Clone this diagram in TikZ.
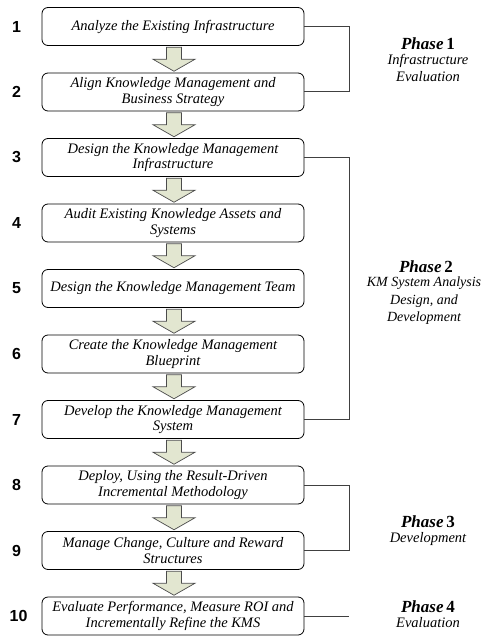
\documentclass[tikz,border=0pt]{standalone}
\usepackage{fontspec}
\setmainfont{Liberation Serif}
\newfontfamily\numfont{Liberation Sans}
\usetikzlibrary{calc}

\definecolor{arrowfill}{RGB}{226,230,208}

\tikzset{
  stepbox/.style={draw=black, line width=0.8pt, rounded corners=6pt,
    minimum width=262pt, minimum height=38pt, inner sep=0pt,
    align=center, font=\fontsize{14.5}{15.5}\selectfont\itshape},
  stepnum/.style={font=\fontsize{16}{16}\selectfont\numfont\bfseries, anchor=center},
  bracket/.style={draw=black!75, line width=1pt},
  phasetitle/.style={font=\fontsize{17}{19}\selectfont\bfseries\itshape},
  phasetext/.style={align=center, font=\fontsize{14.5}{17.5}\selectfont\itshape},
  blockfill/.style={draw=black!70, line width=0.7pt, fill=arrowfill, line join=miter},
  blockdown/.pic={
    \path[blockfill] (-7.5,12) -- (7.5,12) -- (7.5,0) -- (21,0) -- (0,-12)
      -- (-21,0) -- (-7.5,0) -- cycle;
  }
}

\begin{document}
\begin{tikzpicture}[x=1pt, y=1pt]
\useasboundingbox (0,0) rectangle (485,-636);

% process steps
\node[stepbox] (b1)  at (173,-26.5) {Analyze the Existing Infrastructure};
\node[stepbox] (b2)  at (173,-92)   {Align Knowledge Management and\\Business Strategy};
\node[stepbox] (b3)  at (173,-157.5){Design the Knowledge Management\\Infrastructure};
\node[stepbox] (b4)  at (173,-223)  {Audit Existing Knowledge Assets and\\Systems};
\node[stepbox] (b5)  at (173,-288.5){Design the Knowledge Management Team};
\node[stepbox] (b6)  at (173,-354)  {Create the Knowledge Management\\Blueprint};
\node[stepbox] (b7)  at (173,-419.5){Develop the Knowledge Management\\System};
\node[stepbox] (b8)  at (173,-485)  {Deploy, Using the Result-Driven\\Incremental Methodology};
\node[stepbox] (b9)  at (173,-550.5){Manage Change, Culture and Reward\\Structures};
\node[stepbox] (b10) at (173,-616)  {Evaluate Performance, Measure ROI and\\Incrementally Refine the KMS};

% step numbers
\foreach \i in {1,...,9} {
  \node[stepnum] (n\i) at ($(b\i.west)+(-25,0)$) {\i};
}
\node[stepnum] (n10) at ($(b10.west)+(-23,0)$) {10};

% block arrows between consecutive steps
\foreach \a/\b in {1/2,2/3,3/4,4/5,5/6,6/7,7/8,8/9,9/10} {
  \path ($(b\a.south)!0.5!(b\b.north)+(1,0)$) pic {blockdown};
}

% phase brackets
\draw[bracket] (b1.east) -- ++(45,0) coordinate (p1a) |- (b2.east);
\draw[bracket] (b3.east) -- ++(45,0) coordinate (p2a) |- (b7.east);
\draw[bracket] (b8.east) -- ++(45,0) coordinate (p3a) |- (b9.east);
\draw[bracket] (b10.east) -- ++(45,0) coordinate (p4a);

% phase labels
\node[phasetitle] (ph1) at (428,-44) {Phase\,\textup{1}};
\node[phasetext, anchor=north] (ph1t) at ($(ph1.south)+(0,3)$) {Infrastructure\\Evaluation};

\node[phasetitle] (ph2) at (426,-267) {Phase\,\textup{2}};
\node[phasetext, anchor=north, font=\fontsize{14}{17.5}\selectfont\itshape] (ph2t)
  at ($(ph2.south)+(-2,3)$) {KM System Analysis\\Design, and\\Development};

\node[phasetitle] (ph3) at (428,-522) {Phase\,\textup{3}};
\node[phasetext, anchor=north] (ph3t) at ($(ph3.south)+(0,3)$) {Development};

\node[phasetitle] (ph4) at (428,-607) {Phase\,\textup{4}};
\node[phasetext, anchor=north] (ph4t) at ($(ph4.south)+(0,3)$) {Evaluation};
\end{tikzpicture}
\end{document}
